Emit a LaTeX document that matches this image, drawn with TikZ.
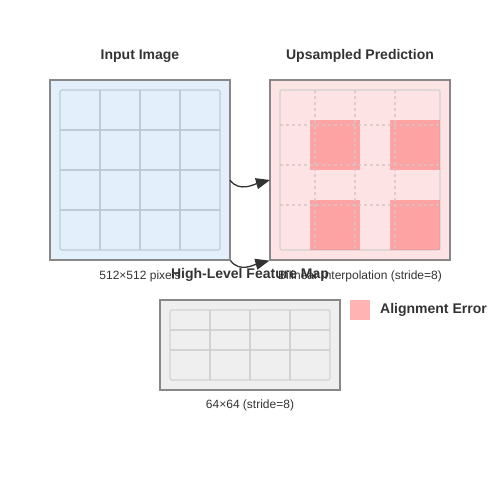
\documentclass[tikz,border=0pt]{standalone}
\usepackage{fontspec}
\setmainfont{Liberation Sans}
\usetikzlibrary{arrows.meta}
\definecolor{inkgray}{HTML}{333333}
\definecolor{boxgray}{HTML}{888888}
\definecolor{inputblue}{HTML}{E3F0FC}
\definecolor{predpink}{HTML}{FDE3E3}
\definecolor{featgray}{HTML}{EFEFEF}
\definecolor{gridblue}{HTML}{BFCBD4}
\definecolor{gridgray}{HTML}{D2D2D2}
\definecolor{dashpink}{HTML}{D9C4C4}
\definecolor{errred}{HTML}{FF6464}
\definecolor{legendred}{HTML}{FFB3B3}
\tikzset{
  panel/.style={draw=boxgray, line width=1.2pt, inner sep=0pt},
  title/.style={font=\bfseries\fontsize{14}{16}\selectfont, text=inkgray},
  caption/.style={font=\fontsize{12}{14}\selectfont, text=inkgray},
  bendarrow/.style={-{Triangle[length=14pt,width=11pt]}, line width=1.3pt, draw=inkgray}
}

\begin{document}
\begin{tikzpicture}[x=1pt,y=-1pt]
\useasboundingbox (0,0) rectangle (500,500);

% input image
\node[title] (inputtitle) at (140,56) {Input Image};
\node[panel, fill=inputblue, minimum width=180pt, minimum height=180pt] (input) at (140,170) {};
\draw[gridblue, line width=1.2pt, rounded corners=2pt] (60,90) rectangle (220,250);
\draw[gridblue, line width=1.2pt] (100,90) -- (100,250);
\draw[gridblue, line width=1.2pt] (140,90) -- (140,250);
\draw[gridblue, line width=1.2pt] (180,90) -- (180,250);
\draw[gridblue, line width=1.2pt] (60,130) -- (220,130);
\draw[gridblue, line width=1.2pt] (60,170) -- (220,170);
\draw[gridblue, line width=1.2pt] (60,210) -- (220,210);
\node[caption] (inputcap) at (140,276) {512×512 pixels};

% upsampled prediction
\node[title] (predtitle) at (360,56) {Upsampled Prediction};
\node[panel, fill=predpink, minimum width=180pt, minimum height=180pt] (pred) at (360,170) {};
\draw[gridgray, line width=1.2pt, rounded corners=2pt] (280,90) rectangle (440,250);
\fill[errred, fill opacity=0.5] (310,120) rectangle (360,170);
\fill[errred, fill opacity=0.5] (390,120) rectangle (440,170);
\fill[errred, fill opacity=0.5] (310,200) rectangle (360,250);
\fill[errred, fill opacity=0.5] (390,200) rectangle (440,250);
\draw[dashpink, line width=1.2pt, dashed, draw opacity=0.8] (315,90) -- (315,250);
\draw[dashpink, line width=1.2pt, dashed, draw opacity=0.8] (355,90) -- (355,250);
\draw[dashpink, line width=1.2pt, dashed, draw opacity=0.8] (395,90) -- (395,250);
\draw[dashpink, line width=1.2pt, dashed, draw opacity=0.8] (280,125) -- (440,125);
\draw[dashpink, line width=1.2pt, dashed, draw opacity=0.8] (280,165) -- (440,165);
\draw[dashpink, line width=1.2pt, dashed, draw opacity=0.8] (280,205) -- (440,205);
\node[caption] (predcap) at (360,276) {Bilinear Interpolation (stride=8)};

% arrows between the panels
\coordinate (upfrom) at (230,180);
\coordinate (upto) at (270,180);
\draw[bendarrow] (upfrom) to[out=-55, in=195] (upto);
\draw[bendarrow] (input.south east) to[out=-55, in=195] (pred.south west);

% feature map
\node[title] (feattitle) at (250,275) {High-Level Feature Map};
\node[panel, fill=featgray, minimum width=180pt, minimum height=90pt] (feat) at (250,345) {};
\draw[gridgray, line width=1.2pt, rounded corners=2pt] (170,310) rectangle (330,380);
\draw[gridgray, line width=1.2pt] (210,310) -- (210,380);
\draw[gridgray, line width=1.2pt] (250,310) -- (250,380);
\draw[gridgray, line width=1.2pt] (290,310) -- (290,380);
\draw[gridgray, line width=1.2pt] (170,330) -- (330,330);
\draw[gridgray, line width=1.2pt] (170,350) -- (330,350);
\node[caption] (featcap) at (250,405) {64×64 (stride=8)};

% legend
\node[fill=legendred, minimum size=20pt, inner sep=0pt] (legendkey) at (360,310) {};
\node[title, anchor=west, inner sep=0pt] (legendtext) at (380,310) {Alignment Error};
\end{tikzpicture}
\end{document}
